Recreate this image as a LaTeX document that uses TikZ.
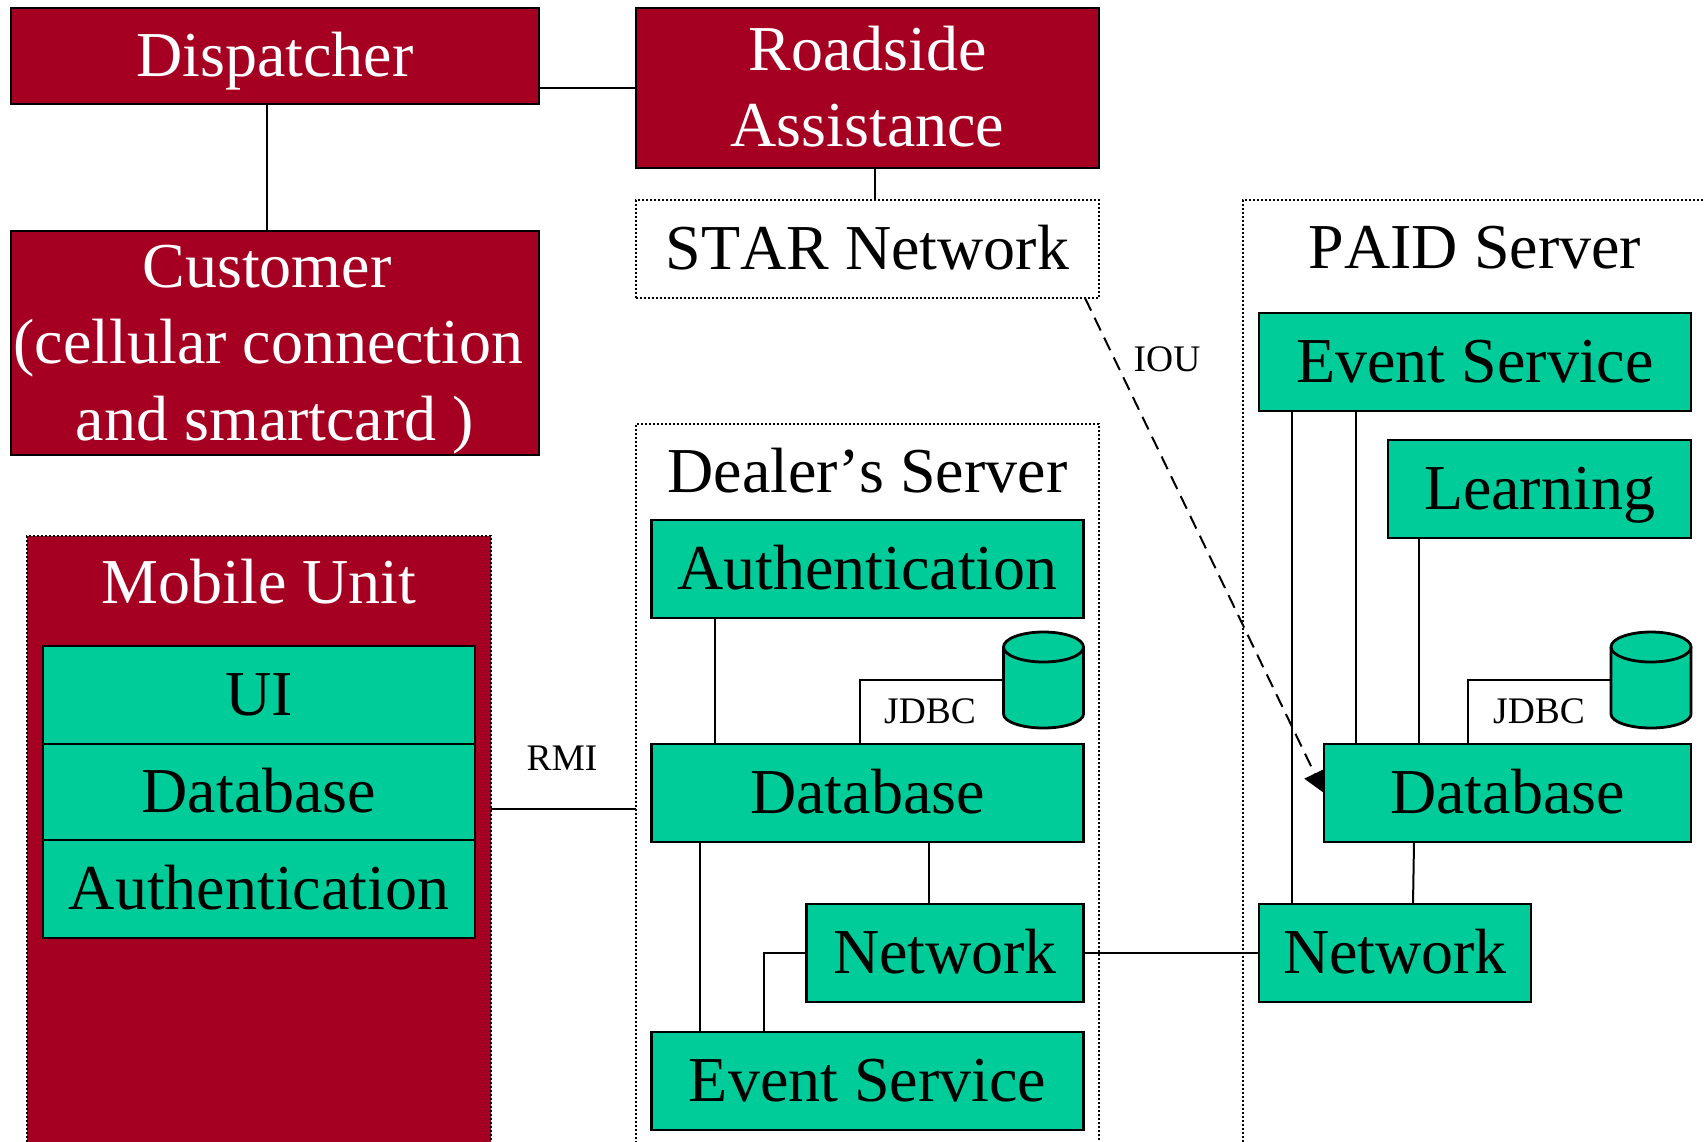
\documentclass[tikz,border=0pt]{standalone}
\usepackage{fontspec}
\setmainfont[Kerning=Off]{Liberation Serif}
\usetikzlibrary{positioning}
\usetikzlibrary{arrows.meta}
\definecolor{maroon}{HTML}{A50021}
\definecolor{teal}{HTML}{00CC99}

\begin{document}
\begin{tikzpicture}[
		x=1pt, y=-1pt,
		box/.style={draw, line width=2.8pt, inner sep=0pt, outer sep=0pt, align=center, minimum height=98pt,
			font=\fontsize{64}{76.5}\selectfont, text height=52pt, text depth=11pt},
		rbox/.style={box, fill=maroon, text=white},
		gbox/.style={box, fill=teal},
		dbox/.style={box, line width=2pt, dash pattern=on 2pt off 2pt},
		title/.style={inner sep=0pt, outer sep=0pt, font=\fontsize{64}{76.5}\selectfont, text height=52pt, text depth=11pt},
		lbl/.style={inner sep=0pt, font=\fontsize{37.5}{45}\selectfont},
		db/.style={minimum width=80pt, minimum height=96pt, inner sep=0pt, outer sep=0pt},
		a/.style={line width=2pt},
	]
		\path[use as bounding box, clip] (0,0) rectangle (1704,1141);

		\node[rbox, minimum width=528pt, minimum height=96pt] (Dispatcher) at (275,56) {Dispatcher};
		\node[rbox, minimum width=463pt, minimum height=160pt, text height=128.5pt] (Roadside) at (867.5,88) {Roadside\\Assistance};
		\node[rbox, minimum width=528pt, minimum height=224pt, text height=205pt, below=127pt of Dispatcher] (Customer)
			{Customer\hspace*{16pt}\\\hspace*{-13pt}(cellular connection\\and smartcard )};
		\node[dbox, minimum width=463pt, below=32pt of Roadside] (Star) {STAR Network};

		% mobile unit
		\node[rbox, draw=black, line width=2pt, dash pattern=on 2pt off 2pt, minimum width=464pt, minimum height=700pt,
			below=81pt of Customer.south west, xshift=16pt, anchor=north west] (Mobile) {};
		\node[gbox, minimum width=432pt, below=110pt of Mobile.north] (MUi) {UI};
		\node[gbox, minimum width=432pt, minimum height=96pt, below=0pt of MUi] (MDb) {Database};
		\node[gbox, minimum width=432pt, below=0pt of MDb] (MAuth) {Authentication};
		\node[title, text=white, above=31.5pt of MUi] (MobileTitle) {Mobile Unit};

		% dealer
		\node[dbox, minimum width=463pt, minimum height=769pt, below=126pt of Star] (Dealer) {};
		\node[gbox, minimum width=432pt, below=96pt of Dealer.north] (DAuth) {Authentication};
		\node[title, above=16.5pt of DAuth] (DealerTitle) {Dealer’s Server};
		\node[gbox, minimum width=432pt, below=126pt of DAuth] (DDb) {Database};
		\node[gbox, minimum width=432pt, below=190pt of DDb] (DEvent) {Event Service};
		\node[gbox, minimum width=277pt, below=62pt of DDb.south east, anchor=north east] (DNet) {Network};
		\node[db, above=16pt of DDb.north east, anchor=south east] (DCyl) {};

		% paid
		\node[dbox, minimum width=600pt, minimum height=1000pt, right=144pt of Star.north east, anchor=north west] (Paid) {};
		\node[gbox, minimum width=432pt, below=113pt of Paid.north west, xshift=16pt, anchor=north west] (PEvent) {Event Service};
		\node[title, above=33.5pt of PEvent] (PaidTitle) {PAID Server};
		\node[gbox, minimum width=303pt, below=29pt of PEvent.south east, anchor=north east] (PLearn) {Learning};
		\node[gbox, minimum width=367pt, below=333pt of PEvent.south east, anchor=north east] (PDb) {Database};
		\node[gbox, minimum width=272pt, below=493pt of PEvent.south west, anchor=north west] (PNet) {Network};
		\node[db, above=16pt of PDb.north east, anchor=south east] (PCyl) {};

		\foreach \n in {DCyl, PCyl} {
			\draw[line width=2.8pt, fill=teal] ([yshift=-15pt]\n.north west) arc[start angle=180, end angle=0, x radius=40pt, y radius=15pt]
				-- ([yshift=14pt]\n.south east) arc[start angle=0, end angle=-180, x radius=40pt, y radius=14pt] -- cycle;
			\draw[line width=2.8pt] ([yshift=-15pt]\n.north west) arc[start angle=180, end angle=360, x radius=40pt, y radius=15pt];
		}

		\draw[a] (Roadside.west) -- (Roadside.west -| Dispatcher.east);
		\draw[a] ([xshift=-8pt]Dispatcher.south) -- ([xshift=-8pt]Customer.north);
		\draw[a] ([xshift=7pt]Roadside.south) -- ([xshift=7pt]Star.north);
		\draw[a] (Mobile.east |- Dealer.west) -- (Dealer.west);
		\node[lbl] (Rmi) at (562,758) {RMI};

		\draw[a] ([xshift=-153pt]DAuth.south) -- ([xshift=-153pt]DDb.north);
		\draw[a] ([xshift=-168pt]DDb.south) -- ([xshift=-168pt]DEvent.north);
		\draw[a] ([xshift=61pt]DDb.south) -- ([xshift=-16.5pt]DNet.north);
		\draw[a] ([xshift=-104pt]DEvent.north) |- (DNet.west);
		\draw[a] ([xshift=-8pt]DDb.north) |- (DCyl.west);
		\node[lbl] (DJdbc) at (930,711) {JDBC};

		\draw[a] (DNet) -- (PNet);
		\draw[a] ([xshift=-183pt]PEvent.south) -- ([xshift=-103pt]PNet.north);
		\draw[a] ([xshift=-119pt]PEvent.south) -- ([xshift=-151.5pt]PDb.north);
		\draw[a] ([xshift=-120.5pt]PLearn.south) -- ([xshift=-88.5pt]PDb.north);
		\draw[a] ([xshift=-93.5pt]PDb.south) -- ([xshift=18pt]PNet.north);
		\draw[a] ([xshift=-39.5pt]PDb.north) |- (PCyl.west);
		\node[lbl] (PJdbc) at (1539,711) {JDBC};

		\coordinate (IouStart) at ([xshift=-14pt]Star.south east);
		\draw[a, dash pattern=on 14pt off 8pt, -{Triangle[length=21.5pt,width=22.5pt]}] (IouStart) -- (PDb.west);
		\node[lbl] (Iou) at (1167,359) {IOU};
	\end{tikzpicture}
\end{document}
